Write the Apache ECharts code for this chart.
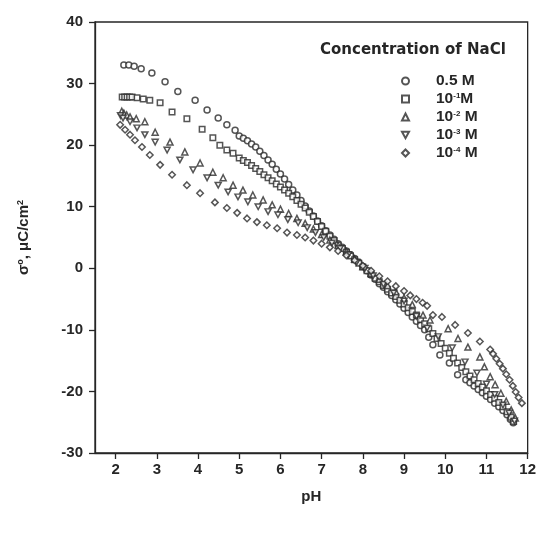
<!DOCTYPE html>
<html><head><meta charset="utf-8">
<script src="https://cdn.jsdelivr.net/npm/echarts@6/dist/echarts.min.js"></script>
<style>html,body{margin:0;padding:0;background:#fff}#c{width:539px;height:533px}</style>
</head><body><div id="c"></div>
<script>
const seriesNames = ['0.5 M', '10-1 M', '10-2 M', '10-3 M', '10-4 M'];
const legendLabels = ['0.5 M', '10{sup|-1}M', '10{sup|-2} M', '10{sup|-3} M', '10{sup|-4} M'];
const xTicks = [2,3,4,5,6,7,8,9,10,11,12];

const nacl05 = [[2.2,33.0],[2.32,33.0],[2.45,32.8],[2.62,32.4],[2.88,31.7],[3.2,30.3],[3.51,28.7],[3.93,27.3],[4.22,25.7],[4.49,24.4],[4.7,23.3],[4.9,22.4],
[5.0,21.5],[5.1,21.1],[5.2,20.7],[5.3,20.2],[5.4,19.7],[5.5,19.0],[5.6,18.3],[5.7,17.6],[5.8,16.9],[5.9,16.1],[6.0,15.3],[6.1,14.5],[6.2,13.6],[6.3,12.7],[6.4,11.9],[6.5,11.0],[6.6,10.1],[6.7,9.3],[6.8,8.5],[6.9,7.7],[7.0,6.9],[7.1,6.1],[7.2,5.4],[7.3,4.7],[7.4,4.0],[7.5,3.4],[7.6,2.8],[7.7,2.2],[7.8,1.6],[7.9,1.0],[8.0,0.3],
[8.1,-0.4],[8.2,-1.1],[8.3,-1.8],[8.4,-2.5],[8.5,-3.1],[8.6,-3.8],[8.7,-4.4],[8.8,-5.1],[8.9,-5.8],[9.0,-6.5],[9.1,-7.2],[9.2,-7.9],[9.3,-8.6],[9.4,-9.3],[9.5,-10.0],[9.6,-11.2],[9.7,-12.4],[9.87,-14.1],[10.1,-15.4],[10.3,-17.3],[10.5,-18.1],[10.6,-18.6],[10.7,-19.1],[10.8,-19.7],[10.9,-20.2],[11.0,-20.8],[11.1,-21.3],[11.2,-21.9],[11.3,-22.5],[11.4,-23.1],[11.5,-23.8],[11.58,-24.5],[11.65,-25.1]];

const nacl1 = [[2.16,27.8],[2.22,27.8],[2.28,27.8],[2.34,27.8],[2.4,27.8],[2.52,27.7],[2.67,27.5],[2.83,27.3],[3.08,26.9],[3.37,25.4],[3.73,24.3],[4.1,22.6],[4.36,21.2],[4.53,20.0],[4.7,19.2],[4.85,18.7],
[5.0,17.9],[5.1,17.5],[5.2,17.2],[5.3,16.7],[5.4,16.2],[5.5,15.7],[5.6,15.2],[5.7,14.7],[5.8,14.2],[5.9,13.7],[6.0,13.2],[6.1,12.7],[6.2,12.2],[6.3,11.6],[6.4,11.0],[6.5,10.4],[6.6,9.8],[6.7,9.1],[6.8,8.4],[6.9,7.6],[7.0,6.8],[7.1,6.0],[7.2,5.2],[7.3,4.5],[7.4,3.8],[7.5,3.2],[7.6,2.6],[7.7,2.0],[7.8,1.4],[7.9,0.8],[8.0,0.2],
[8.1,-0.4],[8.2,-1.0],[8.3,-1.6],[8.4,-2.2],[8.5,-2.8],[8.6,-3.4],[8.7,-4.0],[8.8,-4.6],[8.9,-5.2],[9.0,-5.8],[9.1,-6.4],[9.2,-7.0],[9.3,-7.6],[9.4,-8.3],[9.5,-9.0],[9.6,-9.8],[9.7,-10.6],[9.8,-11.4],[9.9,-12.2],[10.0,-13.0],[10.1,-13.8],[10.2,-14.6],[10.3,-15.4],[10.4,-16.1],[10.5,-16.8],[10.6,-17.5],[10.7,-18.1],[10.8,-18.7],[10.9,-19.3],[11.0,-19.9],[11.1,-20.5],[11.2,-21.1],[11.3,-21.8],[11.4,-22.5],[11.5,-23.3],[11.6,-24.2],[11.66,-24.9]];

const nacl2 = [[2.15,25.5],[2.2,25.2],[2.27,24.9],[2.35,24.6],[2.5,24.3],[2.71,23.8],[2.96,22.1],[3.32,20.5],[3.68,18.9],[4.05,17.1],[4.36,15.6],[4.61,14.7],[4.85,13.5],[5.09,12.7],[5.33,11.9],[5.58,11.1],[5.8,10.3],[6.0,9.6],[6.2,8.9],[6.4,8.1],[6.6,7.3],[6.8,6.4],[7.0,5.5],[7.2,4.6],[7.4,3.7],[7.6,2.7],[7.8,1.5],[8.0,0.3],[8.2,-0.8],[8.4,-1.8],[8.6,-2.8],[8.8,-3.8],[9.0,-4.8],[9.2,-5.9],[9.46,-7.6],[9.63,-8.4],[10.07,-9.8],[10.31,-11.4],[10.55,-12.8],[10.84,-14.4],[10.95,-16.0],[11.09,-17.6],[11.21,-18.9],[11.35,-20.3],[11.48,-21.6],[11.6,-23.0],[11.7,-24.3]];

const nacl3 = [[2.12,24.8],[2.18,24.4],[2.35,23.8],[2.52,22.8],[2.71,21.7],[2.96,20.5],[3.25,19.2],[3.56,17.6],[3.88,16.0],[4.22,14.7],[4.49,13.5],[4.73,12.4],[4.97,11.6],[5.21,10.8],[5.46,10.0],[5.7,9.2],[5.94,8.7],[6.18,7.9],[6.43,7.4],[6.65,6.6],[6.85,5.8],[7.05,5.0],[7.25,4.1],[7.45,3.2],[7.65,2.2],[7.85,1.0],[8.05,0.0],[8.25,-1.2],[8.5,-2.6],[8.75,-4.0],[9.0,-5.3],[9.3,-7.8],[9.56,-9.7],[9.83,-11.1],[10.17,-12.9],[10.48,-15.2],[10.77,-17.0],[11.0,-18.8],[11.2,-20.5],[11.4,-22.2],[11.55,-23.5],[11.68,-24.8]];

const nacl4 = [[2.11,23.3],[2.23,22.5],[2.35,21.7],[2.47,20.8],[2.64,19.7],[2.83,18.4],[3.08,16.8],[3.37,15.2],[3.73,13.5],[4.05,12.2],[4.41,10.7],[4.7,9.8],[4.95,9.0],[5.19,8.1],[5.43,7.5],[5.67,7.0],[5.92,6.5],[6.16,5.8],[6.4,5.4],[6.6,5.0],[6.8,4.5],[7.0,4.0],[7.2,3.4],[7.4,2.8],[7.6,2.1],[7.8,1.3],[8.0,0.4],[8.2,-0.4],[8.4,-1.3],[8.6,-2.1],[8.8,-2.9],[9.0,-3.7],[9.15,-4.4],[9.3,-5.0],[9.45,-5.6],[9.56,-6.1],[9.7,-7.6],[9.92,-7.9],[10.24,-9.2],[10.55,-10.5],[10.84,-11.9],[11.09,-13.2],[11.16,-13.9],[11.24,-14.7],[11.32,-15.5],[11.4,-16.3],[11.48,-17.2],[11.56,-18.1],[11.64,-19.1],[11.71,-20.1],[11.78,-21.0],[11.86,-21.9]];

const allData = [nacl05, nacl1, nacl2, nacl3, nacl4];
const symbols = ['circle', 'rect', 'triangle', 'path://M0,0 L10,0 L5,9 Z', 'diamond'];
const sizes = [6, 5.5, 6, [6, 5.5], 6.5];

const ink = '#262626';
const font = 'Liberation Sans, Arial, sans-serif';

const chart = echarts.init(document.getElementById('c'));
chart.setOption({
  backgroundColor: '#fff',
  animation: false,
  title: {
    text: 'Concentration of NaCl', left: 315, top: 38,
    textStyle: { fontFamily: 'DejaVu Sans, sans-serif', fontSize: 15, fontWeight: 'bold', color: ink }
  },
  legend: {
    orient: 'vertical', left: 396, top: 68, itemWidth: 7, itemHeight: 7, itemGap: 2,
    data: seriesNames,
    formatter: function (name) { return legendLabels[seriesNames.indexOf(name)]; },
    textStyle: {
      fontFamily: font, fontSize: 15.5, fontWeight: 'bold', color: ink, padding: [0, 0, 0, 22], lineHeight: 14,
      rich: { sup: { fontSize: 8, fontWeight: 'bold', verticalAlign: 'top', padding: [0, 0, 6, 0], fontFamily: font, color: ink } }
    }
  },
  grid: { left: 95, right: 11, top: 22, bottom: 80, show: true, borderColor: ink, borderWidth: 1.3, backgroundColor: 'transparent' },
  xAxis: {
    type: 'value', min: 1.5, max: 12,
    name: 'pH', nameLocation: 'middle', nameGap: 36,
    nameTextStyle: { fontFamily: font, fontSize: 15, fontWeight: 'bold', color: ink },
    axisLine: { show: true, onZero: false, lineStyle: { color: ink, width: 1.3 } },
    axisTick: { show: true, inside: false, length: 6, customValues: xTicks, lineStyle: { color: ink, width: 1.3 } },
    axisLabel: { customValues: xTicks, margin: 9, fontFamily: font, fontSize: 15, fontWeight: 'bold', color: ink },
    splitLine: { show: false }
  },
  yAxis: {
    type: 'value', min: -30, max: 40, interval: 10,
    name: 'σ{sup|o}, μC/cm{sup|2}', nameLocation: 'middle', nameGap: 64, nameRotate: 90,
    nameTextStyle: { fontFamily: font, fontSize: 15, fontWeight: 'bold', color: ink,
      rich: { sup: { fontSize: 9, fontWeight: 'bold', verticalAlign: 'top', padding: [0, 0, 6, 0], fontFamily: font, color: ink } } },
    axisLine: { show: true, onZero: false, lineStyle: { color: ink, width: 1.3 } },
    axisTick: { show: true, inside: false, length: 6, lineStyle: { color: ink, width: 1.3 } },
    axisLabel: { margin: 12, fontFamily: font, fontSize: 15, fontWeight: 'bold', color: ink },
    splitLine: { show: false }
  },
  series: allData.map(function (d, i) {
    return {
      name: seriesNames[i], type: 'scatter', data: d,
      symbol: symbols[i], symbolSize: sizes[i],
      itemStyle: { color: '#fff', borderColor: '#2a2a2a', borderWidth: 1.5 }
    };
  })
});
</script>
</body></html>
